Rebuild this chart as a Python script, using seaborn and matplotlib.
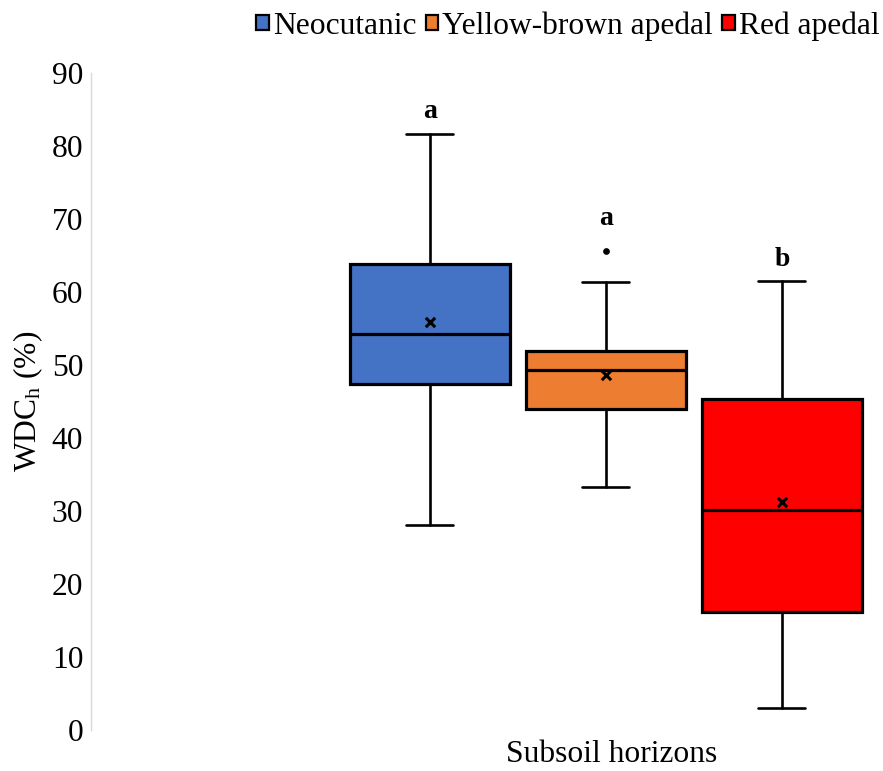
import matplotlib
matplotlib.use("Agg")
import matplotlib.pyplot as plt
from matplotlib.patches import Patch
import seaborn as sns
import pandas as pd

# ---- data ----
groups = ["Neocutanic", "Yellow-brown apedal", "Red apedal"]
whisker_low = [28.1, 33.3, 3.0]
q1 = [47.4, 44.0, 16.2]
median = [54.3, 49.3, 30.1]
q3 = [63.8, 51.9, 45.3]
whisker_high = [81.6, 61.4, 61.5]
means = [55.9, 48.6, 31.2]
outliers = [[], [65.6], []]
letters = ["a", "a", "b"]
letter_y = [84.7, 70.1, 64.4]
colors = ["#4472C4", "#ED7D31", "#FF0000"]
category_label = "Subsoil horizons"

sns.set_theme(style="white")
plt.rcParams["font.family"] = ["Liberation Serif", "DejaVu Serif"]
plt.rcParams["mathtext.fontset"] = "custom"
plt.rcParams["mathtext.rm"] = "Liberation Serif"
plt.rcParams["mathtext.it"] = "Liberation Serif:italic"
for k in ["text.color", "axes.labelcolor", "xtick.color", "ytick.color"]:
    plt.rcParams[k] = "black"

FS = 22.7

fig = plt.figure(figsize=(8.83, 7.71), dpi=100)
ax = fig.add_axes([0.103, 0.0532, 0.897, 0.852])

positions = [0, 1, 2]
stats = []
for i, g in enumerate(groups):
    stats.append(dict(label=g, whislo=whisker_low[i], q1=q1[i], med=median[i],
                      q3=q3[i], whishi=whisker_high[i], fliers=outliers[i],
                      mean=means[i]))

bp = ax.bxp(stats, positions=positions, widths=0.905, patch_artist=True,
            showmeans=False, showfliers=False,
            boxprops=dict(edgecolor="black", linewidth=2.3),
            medianprops=dict(color="black", linewidth=2.3),
            whiskerprops=dict(color="black", linewidth=1.9),
            capprops=dict(color="black", linewidth=1.9),
            capwidths=0.267)
for patch, c in zip(bp["boxes"], colors):
    patch.set_facecolor(c)

# means
df_mean = pd.DataFrame({"x": positions, "y": means})
sns.scatterplot(data=df_mean, x="x", y="y", marker="x", color="black",
                s=45, linewidth=2.2, ax=ax, zorder=5, legend=False)
# outliers
ox, oy = [], []
for i, o in enumerate(outliers):
    for v in o:
        ox.append(positions[i]); oy.append(v)
df_out = pd.DataFrame({"x": ox, "y": oy})
sns.scatterplot(data=df_out, x="x", y="y", marker="o", color="black",
                edgecolor="black", s=16, linewidth=0.8, ax=ax, zorder=5,
                legend=False)

for i, t in enumerate(letters):
    ax.text(positions[i], letter_y[i], t, ha="center", va="center",
            fontsize=20, fontweight="bold", color="black")

ax.set_xlim(-1.926, 2.574)
ax.set_ylim(0, 90)
ax.set_yticks(range(0, 91, 10))
ax.set_xticks([1.03])
ax.set_xticklabels([category_label], fontsize=FS)
ax.tick_params(axis="y", labelsize=FS, length=0, pad=5.5)
ax.tick_params(axis="x", length=0, pad=7)
ax.set_xlabel("")
ax.set_ylabel(r"WDC$_\mathrm{h}$ (%)", fontsize=FS, labelpad=4.5)
ax.grid(False)
for s in ["top", "right", "bottom"]:
    ax.spines[s].set_visible(False)
ax.spines["left"].set_color("#D9D9D9")
ax.spines["left"].set_linewidth(1.0)

handles = [Patch(facecolor=c, edgecolor="black", linewidth=1.6, label=g)
           for g, c in zip(groups, colors)]
fig.legend(handles=handles, loc="upper right", bbox_to_anchor=(1.021, 1.014),
           ncol=3, frameon=False, fontsize=FS, handlelength=0.4,
           handleheight=0.4, handletextpad=0.12, columnspacing=0.3,
           borderpad=0.2)

fig.savefig("out.png", dpi=100)
